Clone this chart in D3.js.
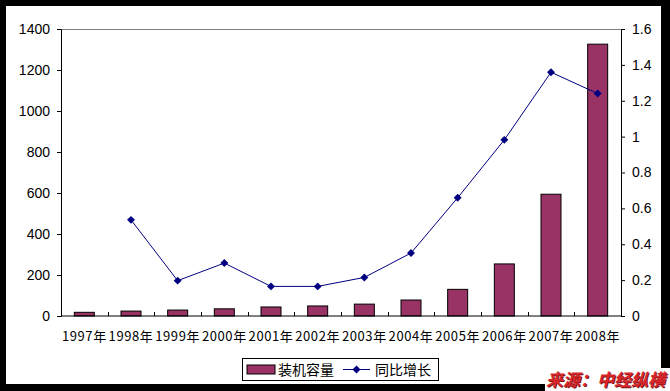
<!DOCTYPE html>
<html>
<head>
<meta charset="utf-8">
<script src="https://cdn.jsdelivr.net/npm/d3@7"></script>
<style>
  body { margin: 0; background: #000; }
  svg { display: block; }
</style>
</head>
<body>
<svg id="chart"></svg>
<script>
const years = ['1997年','1998年','1999年','2000年','2001年','2002年','2003年','2004年','2005年','2006年','2007年','2008年'];
const capacity = [18, 24, 29, 35, 44, 49, 58, 78, 130, 254, 594, 1326];
const growth = [null, 0.536, 0.197, 0.295, 0.165, 0.165, 0.215, 0.351, 0.659, 0.982, 1.359, 1.240];
const leftTicks = [0, 200, 400, 600, 800, 1000, 1200, 1400];
const rightTicks = [0, 0.2, 0.4, 0.6, 0.8, 1, 1.2, 1.4, 1.6];

const width = 670, height = 391;
const margin = {top: 29, right: 49, bottom: 75, left: 61};
const innerW = width - margin.left - margin.right;
const innerH = height - margin.top - margin.bottom;

const svg = d3.select('#chart').attr('width', width).attr('height', height);

// black frame with white canvas
svg.append('rect').attr('width', width).attr('height', height).attr('fill', '#000');
svg.append('rect').attr('x', 6).attr('y', 6).attr('width', 655).attr('height', 378).attr('fill', '#fff');
svg.append('rect').attr('x', 545).attr('y', 368).attr('width', 125).attr('height', 23).attr('fill', '#fff');

const chart = svg.append('g').attr('transform', `translate(${margin.left},${margin.top})`);

const x = d3.scaleBand().domain(years).range([0, innerW]);
const yL = d3.scaleLinear().domain([0, 1400]).range([innerH, 0]);
const yR = d3.scaleLinear().domain([0, 1.6]).range([innerH, 0]);

// top border of plot area
chart.append('line').attr('x1', 0).attr('x2', innerW).attr('y1', 0.5).attr('y2', 0.5)
  .attr('stroke', '#808080');

// bars
const barW = 20;
chart.selectAll('rect.bar').data(capacity).enter().append('rect')
  .attr('class', 'bar')
  .attr('x', (d, i) => x(years[i]) + x.bandwidth() / 2 - barW / 2)
  .attr('y', d => yL(d))
  .attr('width', barW)
  .attr('height', d => innerH - yL(d))
  .attr('fill', '#993366')
  .attr('stroke', '#000')
  .attr('stroke-width', 1);

// axes
const axisFont = 'Liberation Sans, Arial, sans-serif';

const leftAxis = chart.append('g')
  .call(d3.axisLeft(yL).tickValues(leftTicks).tickSize(4).tickPadding(7).tickFormat(d3.format('d')));
const rightAxis = chart.append('g').attr('transform', `translate(${innerW},0)`)
  .call(d3.axisRight(yR).tickValues(rightTicks).tickSize(4).tickPadding(7).tickFormat(d => d === 0 ? '0' : d3.format('')(+d.toFixed(1))));
[leftAxis, rightAxis].forEach(a => {
  a.select('.domain').attr('stroke', '#000');
  a.selectAll('.tick line').attr('stroke', '#000');
  a.selectAll('.tick text').attr('fill', '#000').style('font-family', axisFont).style('font-size', '14px');
});

// x axis: ticks between categories pointing inward
chart.append('line').attr('x1', 0).attr('x2', innerW).attr('y1', innerH).attr('y2', innerH)
  .attr('stroke', '#000');
chart.selectAll('line.xtick').data(years.slice(1)).enter().append('line')
  .attr('class', 'xtick')
  .attr('x1', d => Math.round(x(d)) + 0.5).attr('x2', d => Math.round(x(d)) + 0.5)
  .attr('y1', innerH).attr('y2', innerH - 4)
  .attr('stroke', '#000');
chart.selectAll('text.xlabel').data(years).enter().append('text')
  .attr('class', 'xlabel')
  .attr('x', d => x(d) + x.bandwidth() / 2)
  .attr('y', innerH + 25)
  .attr('text-anchor', 'middle')
  .style('font-family', 'Noto Sans CJK SC, sans-serif')
  .style('font-size', '13px')
  .style('letter-spacing', '0.6px')
  .attr('fill', '#000')
  .text(d => d);

// growth line
const lineData = growth.map((g, i) => ({year: years[i], g})).filter(d => d.g !== null);
const line = d3.line()
  .x(d => x(d.year) + x.bandwidth() / 2)
  .y(d => yR(d.g));
chart.append('path').attr('d', line(lineData))
  .attr('fill', 'none').attr('stroke', '#000080').attr('stroke-width', 1);
const diamond = d3.symbol().type(d3.symbolDiamond2).size(40);
chart.selectAll('path.mark').data(lineData).enter().append('path')
  .attr('class', 'mark')
  .attr('transform', d => `translate(${x(d.year) + x.bandwidth() / 2},${yR(d.g)})`)
  .attr('d', diamond)
  .attr('fill', '#000080');

// legend
const legend = svg.append('g').attr('transform', 'translate(242,358)');
legend.append('rect').attr('x', 0.5).attr('y', 0.5).attr('width', 196).attr('height', 22)
  .attr('fill', '#fff').attr('stroke', '#000');
legend.append('rect').attr('x', 5).attr('y', 7).attr('width', 28).attr('height', 9)
  .attr('fill', '#993366').attr('stroke', '#000');
legend.append('text').attr('x', 36).attr('y', 16.5)
  .style('font-family', 'Noto Sans CJK SC, sans-serif').style('font-size', '14px')
  .text('装机容量');
legend.append('line').attr('x1', 101).attr('x2', 128).attr('y1', 11.5).attr('y2', 11.5)
  .attr('stroke', '#000080');
legend.append('path').attr('transform', 'translate(114.5,11.5)').attr('d', diamond).attr('fill', '#000080');
legend.append('text').attr('x', 133).attr('y', 16.5)
  .style('font-family', 'Noto Sans CJK SC, sans-serif').style('font-size', '14px')
  .text('同比增长');

// source
const src = svg.append('g').attr('transform', 'translate(546,386)');
src.append('text').attr('x', 1).attr('y', 1)
  .style('font-family', 'Noto Sans CJK SC, sans-serif').style('font-size', '17px')
  .style('font-weight', 'bold').style('font-style', 'italic')
  .attr('fill', '#7a1518').text('来源：中经纵横');
src.append('text')
  .style('font-family', 'Noto Sans CJK SC, sans-serif').style('font-size', '17px')
  .style('font-weight', 'bold').style('font-style', 'italic')
  .attr('fill', '#d8262a').text('来源：中经纵横');
</script>
</body>
</html>
